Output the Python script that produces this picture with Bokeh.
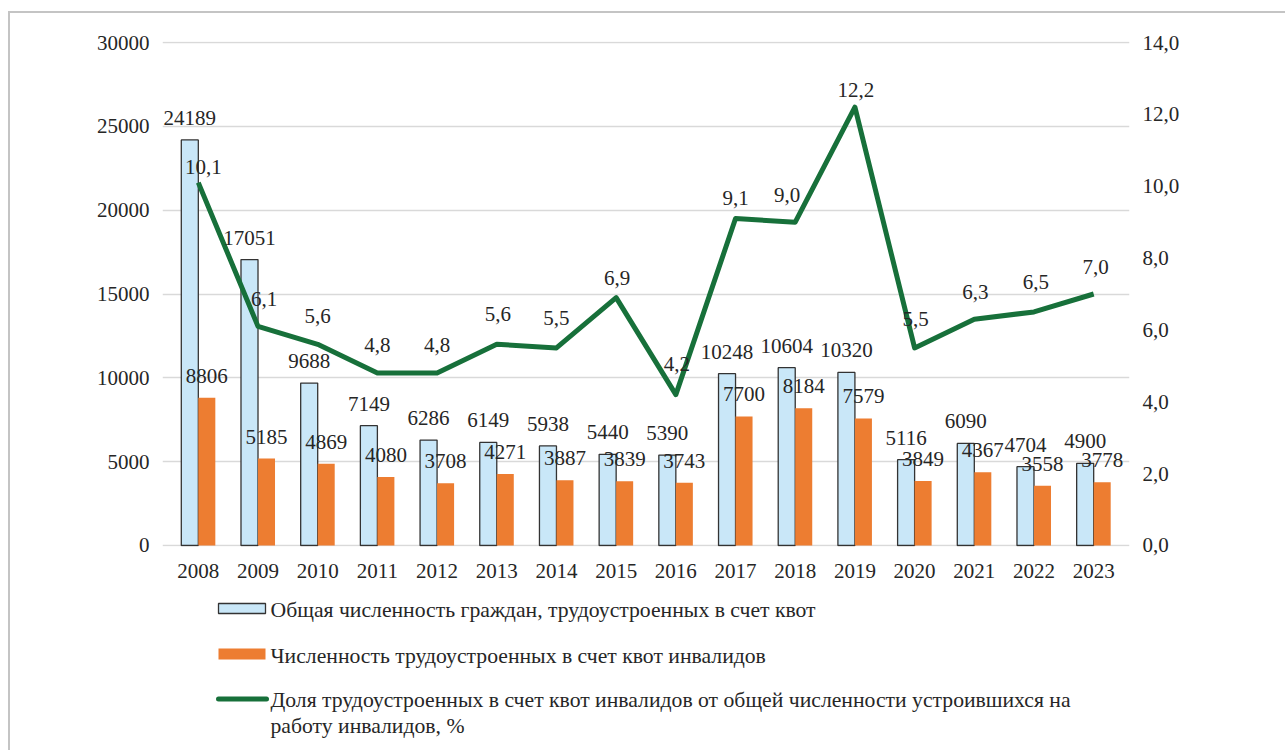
from bokeh.plotting import figure
from bokeh.layouts import column
from bokeh.models import (FactorRange, Range1d, LinearAxis, FixedTicker,
                          CustomJSTickFormatter, ColumnDataSource)
from bokeh.transform import dodge
from bokeh.embed import file_html
from bokeh.resources import INLINE
from bokeh.core.properties import value

# ---------------- data ----------------
years = ["2008", "2009", "2010", "2011", "2012", "2013", "2014", "2015",
         "2016", "2017", "2018", "2019", "2020", "2021", "2022", "2023"]
total_quota = [24189, 17051, 9688, 7149, 6286, 6149, 5938, 5440,
               5390, 10248, 10604, 10320, 5116, 6090, 4704, 4900]
disabled_quota = [8806, 5185, 4869, 4080, 3708, 4271, 3887, 3839,
                  3743, 7700, 8184, 7579, 3849, 4367, 3558, 3778]
share_pct = [10.1, 6.1, 5.6, 4.8, 4.8, 5.6, 5.5, 6.9,
             4.2, 9.1, 9.0, 12.2, 5.5, 6.3, 6.5, 7.0]
left_ticks = [0, 5000, 10000, 15000, 20000, 25000, 30000]
right_ticks = [0, 2, 4, 6, 8, 10, 12, 14]
legend_labels = [
    "Общая численность граждан, трудоустроенных в счет квот",
    "Численность трудоустроенных в счет квот инвалидов",
    "Доля трудоустроенных в счет квот инвалидов от общей численности устроившихся на",
    "работу инвалидов, %",
]

# label placement tweaks (pixels)
pct_dx = [5, 6, 0, 0, 0, 1, 0, 1, 1, 0, -8, 1, 1, 1, 2, 2]
pct_dy = [-16, -27, -28, -28, -28, -30, -30, -20, -31, -21, -27, -17, -29, -27, -30, -27]

# ---------------- style ----------------
FONT = "Liberation Serif"
TXT = "#262626"
BLUE = "#c9e7f8"
ORANGE = "#ed7d31"
GREEN = "#17703a"
GRID = "#d9d9d9"
FS = "21px"
LFS = "21.7px"

src = ColumnDataSource(dict(
    year=years,
    total=total_quota,
    dis=disabled_quota,
    pct=share_pct,
    total_lbl=[str(v) for v in total_quota],
    dis_lbl=[str(v) for v in disabled_quota],
    pct_lbl=[f"{v:.1f}".replace(".", ",") for v in share_pct],
    pdx=pct_dx,
    pdy=pct_dy,
))

BL, BR = 152, 156   # side borders shared by both stacked figures
PAD = 60  # one pixel of the left scale, so the 30000 / 0 grid lines are not clipped
p = figure(
    x_range=FactorRange(*years, range_padding=0.1, range_padding_units="absolute"),
    y_range=Range1d(-PAD, 30000 + PAD),
    width=1275, height=577,
    min_border_left=BL, min_border_right=BR,
    min_border_top=28, min_border_bottom=44,
    output_backend="svg", toolbar_location=None,
    background_fill_color="white", border_fill_color="white",
)
p.outline_line_color = None
p.extra_y_ranges = {"pct": Range1d(-PAD * 14 / 30000, 14 + PAD * 14 / 30000)}

BW = 0.285
p.vbar(x=dodge("year", -BW / 2, range=p.x_range), top="total", width=BW,
       source=src, fill_color=BLUE, line_color="#333333", line_width=1.3)
p.vbar(x=dodge("year", BW / 2, range=p.x_range), top="dis", width=BW,
       source=src, fill_color=ORANGE, line_color=None)
p.line(x="year", y="pct", y_range_name="pct", source=src,
       line_color=GREEN, line_width=5, line_join="round")

p.text(x=dodge("year", -BW / 2, range=p.x_range), y="total", text="total_lbl",
       source=src, text_align="center", text_baseline="middle", y_offset=-22,
       text_font=value(FONT), text_font_size=value(FS), text_color=TXT)
p.text(x=dodge("year", BW / 2, range=p.x_range), y="dis", text="dis_lbl",
       source=src, text_align="center", text_baseline="middle", y_offset=-22,
       text_font=value(FONT), text_font_size=value(FS), text_color=TXT)
p.text(x="year", y="pct", text="pct_lbl", y_range_name="pct", source=src,
       text_align="center", text_baseline="middle", x_offset="pdx", y_offset="pdy",
       text_font=value(FONT), text_font_size=value(FS), text_color=TXT)

# axes
p.yaxis.ticker = FixedTicker(ticks=left_ticks)
p.yaxis.major_label_standoff = 13
right = LinearAxis(y_range_name="pct", ticker=FixedTicker(ticks=right_ticks),
                   formatter=CustomJSTickFormatter(code="return tick.toFixed(1).replace('.', ',');"))
right.major_label_standoff = 13
p.add_layout(right, "right")

for ax in [p.yaxis[0], right, p.xaxis[0]]:
    ax.axis_line_color = None
    ax.major_tick_line_color = None
    ax.minor_tick_line_color = None
    ax.major_tick_out = 0
    ax.major_tick_in = 0
    ax.minor_tick_out = 0
    ax.major_label_text_font = FONT
    ax.major_label_text_font_size = FS
    ax.major_label_text_color = TXT
p.xaxis.major_label_standoff = 17

p.xgrid.grid_line_color = None
p.ygrid.ticker = FixedTicker(ticks=left_ticks)
p.ygrid.grid_line_color = GRID
p.ygrid.grid_line_width = 1.5

# ---------------- legend (separate strip; its frame spans page x 162..1129, y 590..750) ----------------
leg = figure(width=1275, height=160, x_range=Range1d(162, 1129), y_range=Range1d(750, 590),
             min_border_left=BL, min_border_right=BR, min_border_top=0, min_border_bottom=0,
             output_backend="svg", toolbar_location=None,
             background_fill_color="white", border_fill_color="white")
leg.axis.visible = False
leg.grid.visible = False
leg.outline_line_color = None

leg.quad(left=[218], right=[265], top=[603], bottom=[613],
         fill_color=BLUE, line_color="#333333", line_width=1.3)
leg.quad(left=[218], right=[265], top=[648], bottom=[659],
         fill_color=ORANGE, line_color=None)
leg.line(x=[218, 266], y=[698.5, 698.5], line_color=GREEN, line_width=5, line_cap="round")
leg.text(x=[270, 270, 270, 270], y=[609, 655, 699, 725], text=legend_labels,
         text_align="left", text_baseline="middle",
         text_font=value(FONT), text_font_size=value(LFS), text_color=TXT)

layout = column(p, leg, spacing=0,
                styles={"margin-left": "8px", "margin-top": "11px",
                        "border-left": "2px solid #c4c4c4",
                        "border-top": "2px solid #c4c4c4"})

open("out.html", "w").write(file_html(layout, INLINE))
